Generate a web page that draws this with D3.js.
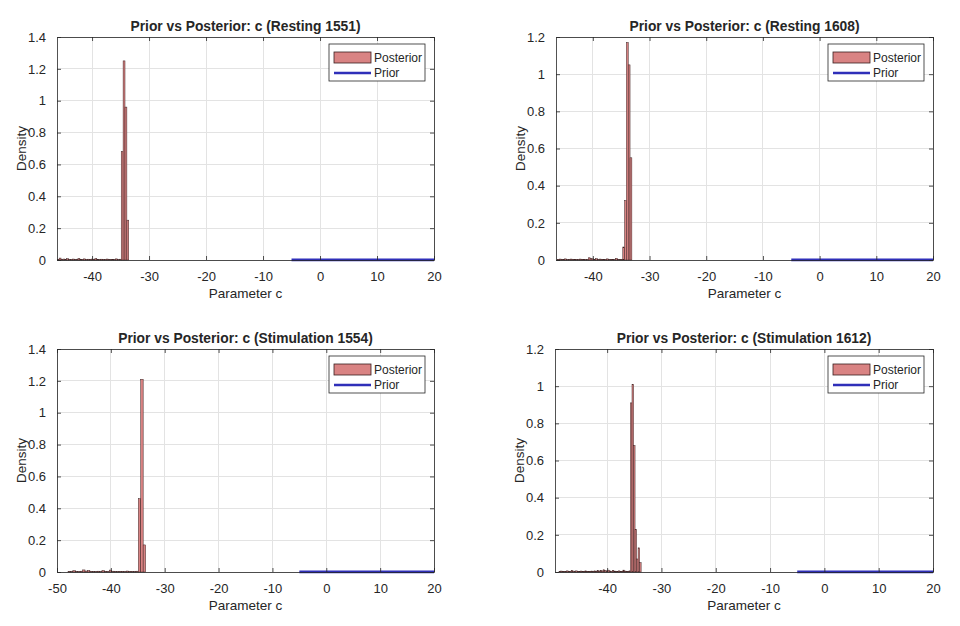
<!DOCTYPE html>
<html><head><meta charset="utf-8">
<script src="https://cdn.jsdelivr.net/npm/d3@7"></script>
<style>
html,body{margin:0;padding:0;background:#fff;}
text{font-family:"Liberation Sans",Arial,Helvetica,sans-serif;fill:#262626;}
</style></head><body>
<svg id="chart" width="960" height="626"></svg>
<script>
// ---- data ----
const titles = [
  "Prior vs Posterior: c (Resting 1551)",
  "Prior vs Posterior: c (Resting 1608)",
  "Prior vs Posterior: c (Stimulation 1554)",
  "Prior vs Posterior: c (Stimulation 1612)"
];
const binStarts = [-46.1, -46.24, -47.95, -48.86];
const binWidths = [0.33, 0.32, 0.45, 0.28];
const density1551 = [0.004,0.012,0.003,0.006,0.002,0.008,0.004,0.003,0.006,0.002,0.005,0.009,0.003,0.004,0.007,0.002,0.005,0.003,0.006,0.004,0.008,0.002,0.003,0.005,0.004,0.002,0.006,0.003,0.002,0.004,0.003,0.007,0.002,0.005,
  0.68,1.25,0.96,0.25];
const density1608 = [0.003,0.005,0.002,0.004,0.006,0.002,0.003,0.005,0.002,0.004,0.003,0.002,0.005,0.003,0.004,0.002,0.003,0.012,0.008,0.006,0.004,0.007,0.003,0.005,0.002,0.004,0.003,0.006,0.002,0.004,0.003,0.002,0.009,0.004,0.002,0.003,
  0.07,0.32,1.17,1.05,0.55];
const density1554 = [0.004,0.002,0.008,0.003,0.002,0.005,0.013,0.006,0.009,0.004,0.003,0.002,0.005,0.002,0.009,0.004,0.003,0.012,0.005,0.003,0.002,0.004,0.003,0.002,0.006,0.004,0.003,0.002,0.005,
  0.46,1.21,0.17];
const density1612 = [0.003,0.005,0.002,0.004,0.003,0.006,0.002,0.004,0.008,0.005,0.003,0.006,0.004,0.002,0.005,0.003,0.004,0.006,0.003,0.002,0.004,0.005,0.003,0.006,0.004,0.007,0.005,0.008,0.006,0.012,0.008,0.005,0.010,0.006,0.003,0.008,0.005,0.004,0.002,0.006,0.003,0.004,0.010,0.005,0.003,0.004,0.006,
  0.91,1.01,0.68,0.23,0.07,0.13,0.05];
const densities = [density1551, density1608, density1554, density1612];
const priorX = [-5, 0, 5, 10, 15, 20];
const priorY = [0.001, 0.001, 0.001, 0.001, 0.001, 0.001];
const xDomains = [[-46.15, 20], [-46.5, 20], [-50, 20], [-49.6, 20]];
const yMax = [1.4, 1.2, 1.4, 1.2];
const xTicks = [[-40,-30,-20,-10,0,10,20],[-40,-30,-20,-10,0,10,20],[-50,-40,-30,-20,-10,0,10,20],[-40,-30,-20,-10,0,10,20]];
const yTicksLow = [0,0.2,0.4,0.6,0.8,1,1.2,1.4];
const yTicksHigh = [0,0.2,0.4,0.6,0.8,1,1.2];
const yTicks = [yTicksLow, yTicksHigh, yTicksLow, yTicksHigh];
const legendLabels = ["Posterior", "Prior"];
const xLabel = "Parameter c";
const yLabel = "Density";

// ---- layout ----
const panels = [
  {l:57, r:434, t:37, b:260},
  {l:556, r:933, t:37, b:260},
  {l:57, r:434, t:349, b:572},
  {l:555, r:933, t:349, b:572}
];
const barFill = "#d98383", barEdge = "#3a2020", priorColor = "#2f2fb9";
const axisColor = "#262626", gridColor = "#e3e3e3";

const svg = d3.select("#chart");
const fmt = d => (d === 0 ? "0" : String(d));

panels.forEach((p, i) => {
  const x = d3.scaleLinear().domain(xDomains[i]).range([p.l, p.r]);
  const y = d3.scaleLinear().domain([0, yMax[i]]).range([p.b, p.t]);
  const g = svg.append("g");

  // grid
  g.append("g").selectAll("line").data(xTicks[i]).join("line")
    .attr("x1", d => x(d)).attr("x2", d => x(d)).attr("y1", p.t).attr("y2", p.b)
    .attr("stroke", gridColor).attr("stroke-width", 1).attr("shape-rendering","crispEdges");
  g.append("g").selectAll("line").data(yTicks[i]).join("line")
    .attr("x1", p.l).attr("x2", p.r).attr("y1", d => y(d)).attr("y2", d => y(d))
    .attr("stroke", gridColor).attr("stroke-width", 1).attr("shape-rendering","crispEdges");

  // bars
  const bins = densities[i].map((v, k) => ({x0: binStarts[i] + k * binWidths[i], x1: binStarts[i] + (k + 1) * binWidths[i], v}));
  g.append("g").selectAll("rect").data(bins).join("rect")
    .attr("x", d => x(d.x0)).attr("width", d => x(d.x1) - x(d.x0))
    .attr("y", d => y(d.v)).attr("height", d => y(0) - y(d.v))
    .attr("fill", barFill).attr("stroke", barEdge).attr("stroke-width", 0.5);

  // prior line
  const line = d3.line().x((d, k) => x(priorX[k])).y((d, k) => y(priorY[k]));
  g.append("path").datum(priorX).attr("d", line)
    .attr("fill", "none").attr("stroke", priorColor).attr("stroke-width", 2.7);

  // axes (box with inward ticks on all sides)
  const tl = -4;
  const ax = [
    g.append("g").attr("transform", `translate(0,${p.b})`).call(d3.axisBottom(x).tickValues(xTicks[i]).tickSizeInner(tl).tickSizeOuter(0).tickPadding(9).tickFormat(fmt)),
    g.append("g").attr("transform", `translate(0,${p.t})`).call(d3.axisTop(x).tickValues(xTicks[i]).tickSizeInner(tl).tickSizeOuter(0).tickFormat("")),
    g.append("g").attr("transform", `translate(${p.l},0)`).call(d3.axisLeft(y).tickValues(yTicks[i]).tickSizeInner(tl).tickSizeOuter(0).tickPadding(11).tickFormat(fmt)),
    g.append("g").attr("transform", `translate(${p.r},0)`).call(d3.axisRight(y).tickValues(yTicks[i]).tickSizeInner(tl).tickSizeOuter(0).tickFormat(""))
  ];
  ax.forEach(a => {
    a.select(".domain").attr("stroke", axisColor).attr("stroke-width", 0.8);
    a.selectAll(".tick line").attr("stroke", axisColor).attr("stroke-width", 0.8);
    a.selectAll(".tick text").attr("fill", axisColor).attr("font-size", 13).attr("font-family", '"Liberation Sans",Arial,sans-serif');
  });
  ax[0].selectAll(".tick text").attr("dy", "0.95em");

  const cx = (p.l + p.r) / 2;
  // title
  g.append("text").attr("x", cx).attr("y", p.t - 6).attr("text-anchor", "middle")
    .attr("font-weight", "bold").attr("font-size", 13.8).attr("fill", "#000").text(titles[i]);
  // x label
  g.append("text").attr("x", cx).attr("y", p.b + 38).attr("text-anchor", "middle")
    .attr("font-size", 13.5).text(xLabel);
  // y label
  g.append("text").attr("transform", `translate(${p.l - 31},${(p.t + p.b) / 2}) rotate(-90)`)
    .attr("text-anchor", "middle").attr("font-size", 13.5).text(yLabel);

  // legend
  const lw = 96, lh = 37;
  const lx = p.r - 9 - lw, ly = p.t + 7;
  const lg = g.append("g").attr("transform", `translate(${lx},${ly})`);
  lg.append("rect").attr("width", lw).attr("height", lh).attr("fill", "#fff")
    .attr("stroke", axisColor).attr("stroke-width", 0.8);
  lg.append("rect").attr("x", 5).attr("y", 8).attr("width", 37).attr("height", 11)
    .attr("fill", barFill).attr("stroke", barEdge).attr("stroke-width", 0.8);
  lg.append("line").attr("x1", 5).attr("x2", 42).attr("y1", 29).attr("y2", 29)
    .attr("stroke", priorColor).attr("stroke-width", 2.7);
  lg.selectAll("text.leg").data(legendLabels).join("text").attr("class", "leg")
    .attr("x", 45).attr("y", (d, k) => k === 0 ? 14 : 29).attr("dy", "0.35em")
    .attr("font-size", 12).text(d => d);
});
</script>
</body></html>
